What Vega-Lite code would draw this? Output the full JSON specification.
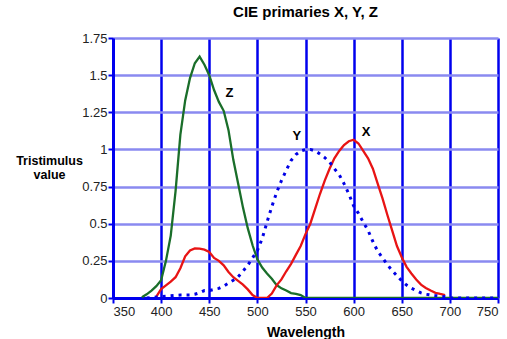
{
  "$schema": "https://vega.github.io/schema/vega-lite/v6.json",
  "width": 385,
  "height": 260,
  "autosize": "none",
  "padding": {"left": 113, "top": 38, "right": 9, "bottom": 41},
  "background": "white",
  "title": {"text": "CIE primaries X, Y, Z", "font": "Liberation Sans", "fontSize": 15, "fontWeight": "bold", "color": "#000", "anchor": "middle", "offset": 12},
  "config": {
    "view": {"stroke": null},
    "axis": {"labelFont": "Liberation Sans", "labelFontSize": 13, "labelColor": "#222", "titleFont": "Liberation Sans", "titleFontSize": 14, "titleFontWeight": "bold", "titleColor": "#000", "domainColor": "#0000ee", "domainWidth": 3, "tickColor": "#0000ee", "tickWidth": 2, "tickSize": 5}
  },
  "datasets": {
    "Z": [
      {"wl":380,"v":0.005},{"wl":385,"v":0.025},{"wl":390,"v":0.05},{"wl":395,"v":0.08},{"wl":400,"v":0.12},
      {"wl":405,"v":0.25},{"wl":410,"v":0.42},{"wl":415,"v":0.72},{"wl":420,"v":1.10},{"wl":425,"v":1.33},
      {"wl":430,"v":1.48},{"wl":435,"v":1.58},{"wl":440,"v":1.625},{"wl":445,"v":1.57},{"wl":450,"v":1.50},
      {"wl":455,"v":1.40},{"wl":460,"v":1.32},{"wl":465,"v":1.26},{"wl":470,"v":1.13},{"wl":475,"v":0.93},
      {"wl":480,"v":0.77},{"wl":485,"v":0.61},{"wl":490,"v":0.47},{"wl":495,"v":0.355},{"wl":500,"v":0.26},
      {"wl":505,"v":0.205},{"wl":510,"v":0.165},{"wl":515,"v":0.13},{"wl":520,"v":0.087},{"wl":525,"v":0.065},
      {"wl":530,"v":0.05},{"wl":535,"v":0.033},{"wl":540,"v":0.028},{"wl":545,"v":0.02},{"wl":550,"v":0},
      {"wl":750,"v":0}
    ],
    "X": [
      {"wl":395,"v":0.01},{"wl":400,"v":0.06},{"wl":405,"v":0.085},{"wl":410,"v":0.11},{"wl":415,"v":0.14},
      {"wl":420,"v":0.20},{"wl":425,"v":0.28},{"wl":430,"v":0.32},{"wl":435,"v":0.334},{"wl":440,"v":0.332},
      {"wl":445,"v":0.325},{"wl":450,"v":0.31},{"wl":455,"v":0.27},{"wl":460,"v":0.25},{"wl":465,"v":0.22},
      {"wl":470,"v":0.175},{"wl":475,"v":0.14},{"wl":480,"v":0.115},{"wl":485,"v":0.09},{"wl":490,"v":0.058},
      {"wl":495,"v":0.02},{"wl":500,"v":0},{"wl":505,"v":0},{"wl":510,"v":0},{"wl":515,"v":0.03},
      {"wl":520,"v":0.085},{"wl":525,"v":0.125},{"wl":530,"v":0.18},{"wl":535,"v":0.23},{"wl":540,"v":0.29},
      {"wl":545,"v":0.35},{"wl":550,"v":0.43},{"wl":555,"v":0.50},{"wl":560,"v":0.60},{"wl":565,"v":0.70},
      {"wl":570,"v":0.79},{"wl":575,"v":0.87},{"wl":580,"v":0.94},{"wl":585,"v":0.99},{"wl":590,"v":1.03},
      {"wl":595,"v":1.055},{"wl":600,"v":1.065},{"wl":605,"v":1.04},{"wl":610,"v":0.99},{"wl":615,"v":0.94},
      {"wl":620,"v":0.87},{"wl":625,"v":0.77},{"wl":630,"v":0.67},{"wl":635,"v":0.56},{"wl":640,"v":0.455},
      {"wl":645,"v":0.35},{"wl":650,"v":0.275},{"wl":655,"v":0.21},{"wl":660,"v":0.165},{"wl":665,"v":0.125},
      {"wl":670,"v":0.09},{"wl":675,"v":0.068},{"wl":680,"v":0.05},{"wl":685,"v":0.035},{"wl":690,"v":0.027},
      {"wl":695,"v":0.02}
    ],
    "Y": [
      {"wl":385,"v":0},{"wl":400,"v":0.01},{"wl":410,"v":0.015},{"wl":420,"v":0.02},{"wl":425,"v":0.02},
      {"wl":430,"v":0.02},{"wl":435,"v":0.025},{"wl":440,"v":0.035},{"wl":445,"v":0.05},{"wl":450,"v":0.05},
      {"wl":455,"v":0.058},{"wl":460,"v":0.065},{"wl":465,"v":0.08},{"wl":470,"v":0.1},{"wl":475,"v":0.12},
      {"wl":480,"v":0.143},{"wl":485,"v":0.18},{"wl":490,"v":0.22},{"wl":495,"v":0.27},{"wl":500,"v":0.32},
      {"wl":505,"v":0.40},{"wl":510,"v":0.51},{"wl":515,"v":0.615},{"wl":520,"v":0.71},{"wl":525,"v":0.79},
      {"wl":530,"v":0.86},{"wl":535,"v":0.925},{"wl":540,"v":0.965},{"wl":545,"v":0.99},{"wl":550,"v":0.998},
      {"wl":555,"v":1.0},{"wl":560,"v":0.99},{"wl":565,"v":0.97},{"wl":570,"v":0.945},{"wl":575,"v":0.915},
      {"wl":580,"v":0.87},{"wl":585,"v":0.83},{"wl":590,"v":0.77},{"wl":595,"v":0.70},{"wl":600,"v":0.62},
      {"wl":605,"v":0.57},{"wl":610,"v":0.51},{"wl":615,"v":0.455},{"wl":620,"v":0.38},{"wl":625,"v":0.315},
      {"wl":630,"v":0.27},{"wl":635,"v":0.225},{"wl":640,"v":0.185},{"wl":645,"v":0.15},{"wl":650,"v":0.115},
      {"wl":655,"v":0.087},{"wl":660,"v":0.065},{"wl":665,"v":0.05},{"wl":670,"v":0.034},{"wl":675,"v":0.025},
      {"wl":680,"v":0.02},{"wl":685,"v":0.016},{"wl":690,"v":0.013},{"wl":695,"v":0.008},{"wl":700,"v":0},
      {"wl":750,"v":0}
    ],
    "labels": [
      {"wl":471,"v":1.38,"t":"Z"},
      {"wl":541,"v":1.09,"t":"Y"},
      {"wl":613,"v":1.115,"t":"X"}
    ]
  },
  "encoding": {
    "x": {"field": "wl", "type": "quantitative", "scale": {"domain": [350, 750], "nice": false},
      "axis": {"values": [350,400,450,500,550,600,650,700,750], "grid": true, "gridColor": "#0000ee", "gridWidth": 2.5, "gridOpacity": 1, "title": "Wavelength", "titleY": 38, "titleBaseline": "alphabetic", "labelPadding": 2, "format": "d", "labelOverlap": false}},
    "y": {"field": "v", "type": "quantitative", "scale": {"domain": [0, 1.75], "nice": false},
      "axis": {"values": [0,0.25,0.5,0.75,1,1.25,1.5,1.75], "grid": true, "gridColor": "#8a8af0", "gridWidth": 2.5, "gridOpacity": 1, "format": ".3~g", "labelPadding": 1, "labelOverlap": false, "title": ["Tristimulus", "value"], "titleFontSize": 12.5, "titleAngle": 0, "titleAlign": "center", "titleX": -64, "titleY": 126, "titleBaseline": "alphabetic", "titleLineHeight": 14}}
  },
  "layer": [
    {
      "data": {"name": "Z"},
      "mark": {"type": "line", "color": "#1a6e2a", "strokeWidth": 2.3, "clip": true}
    },
    {
      "data": {"name": "X"},
      "mark": {"type": "line", "color": "#e81414", "strokeWidth": 2.3, "clip": true}
    },
    {
      "data": {"name": "Y"},
      "mark": {"type": "line", "color": "#0000e6", "strokeWidth": 3, "strokeDash": [3, 5], "clip": true}
    },
    {
      "data": {"name": "labels"},
      "mark": {"type": "text", "font": "Liberation Sans", "fontSize": 13, "fontWeight": "bold", "color": "#000", "baseline": "middle", "align": "center"},
      "encoding": {
        "text": {"field": "t", "type": "nominal"}
      }
    }
  ]
}
